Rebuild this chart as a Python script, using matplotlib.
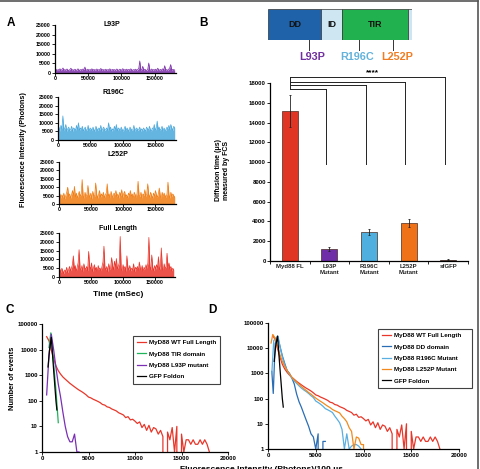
import numpy as np
import matplotlib
matplotlib.use("Agg")
import matplotlib.pyplot as plt
from matplotlib.lines import Line2D

plt.rcParams['font.family'] = ['Liberation Sans', 'DejaVu Sans']
plt.rcParams['font.weight'] = 'bold'

# ---- panel A: intensity traces (photons), one sample every 1500 ms ----
dt = 1500
l93 = [1500,2000,1200,1800,1600,2200,1300,1900,2600,1500,
       1800,1400,2100,1600,1200,1900,2500,1500,1800,1300,
       2000,1600,1400,2200,1700,1300,1900,1500,2100,1800,
       3100,1400,1700,2000,1300,1800,1600,2200,1400,1900,
       1500,1700,2100,1300,1800,1600,2400,1400,1900,1500,
       1700,2000,1300,1800,1600,2200,1400,1700,1900,1500,
       1800,1300,2100,1600,1400,2000,1700,1500,2300,1400,
       1800,1600,2000,1300,1900,1500,2200,1700,1400,1800,
       1600,2000,1300,1900,2400,6300,1500,1800,3500,1400,
       2000,1600,1300,1900,5200,1700,1500,2100,1400,1800,
       1600,2000,1300,2500,1700,1500,1900,1400,2200,1600,
       3800,1500,1800,1400,2000,2600,4400,1500,1900,1700,
       1600]
r196 = [6000,7500,5000,8500,6500,14000,5500,7000,9000,5000,
        6500,7500,5500,6000,8000,5000,7000,6500,5500,8500,
        6000,10000,5500,7000,6000,8000,5000,6500,7500,5500,
        6000,8500,5000,7000,6500,5500,7500,6000,5000,8000,
        6500,5500,7000,6000,8500,5000,6500,7500,5500,6000,
        7000,5500,10000,6000,7500,5000,6500,5500,8000,6000,
        9000,5000,7000,6500,5500,7500,6000,5000,6500,8000,
        5500,7000,6000,5000,7500,6500,5500,6000,8500,5000,
        6500,7000,5500,6000,7500,5000,6500,5500,7000,6000,
        5000,7500,6500,5500,8000,6000,5000,7000,6500,9000,
        5500,7000,11000,6000,7500,5500,6500,8000,5000,7000,
        6000,5500,7500,6500,8500,6000,9000,7000,5500,8000,
        7000]
l252 = [4500,6000,3500,5500,4000,6500,3000,5000,7000,10000,
        4500,6000,3500,5500,8000,5000,10500,4000,6500,3500,
        5500,7500,4500,6000,14500,5000,3500,7000,4500,6000,
        11000,5500,4000,6500,3000,7500,5000,4500,12500,6000,
        3500,5500,8000,4000,6000,4500,7000,3500,5500,6500,
        12000,4500,6000,3500,7500,5000,4000,6500,5500,8000,
        4500,6000,3500,7000,5000,8500,4000,6000,7500,4500,
        5500,3500,6500,5000,8000,4500,6000,3500,7000,5500,
        4000,6500,13500,5000,4500,7000,3500,6000,5000,8500,
        4500,6000,12000,5500,4000,7000,5000,3500,6500,4500,
        8000,5500,4000,6000,9500,5000,3500,7000,4500,6500,
        5000,4000,6000,13000,5500,3500,7000,4500,6000,5000,
        4000]
full = [3000,4500,2500,5000,3500,2000,4000,3000,5500,2500,
        4000,6000,3500,5000,7000,12000,4500,6500,3000,5500,
        8000,15500,5000,4000,6500,3000,7500,5000,4500,6000,
        3500,14500,6000,4500,8000,3000,5000,7000,4000,5500,
        3000,6500,4500,5000,3500,6000,8500,17500,5500,4000,
        6000,3000,7500,4500,5000,11000,6500,4000,9000,5500,
        10500,4500,6000,8000,23000,5000,3500,7000,4500,6000,
        3000,12000,5500,4000,6500,3500,5000,4000,7500,3000,
        5500,4500,6000,3500,8500,5000,4000,6500,3000,5500,
        4500,7000,5000,8000,22500,6000,4000,12500,5500,3500,
        6500,4500,7000,5000,11500,4000,6000,16500,5500,3500,
        7500,4500,6000,13500,5000,8000,4500,6000,3500,5000,
        4000]
trace_names = ['L93P', 'R196C', 'L252P', 'Full Length']
trace_data = [l93, r196, l252, full]
trace_colors = ['#7b2fa8', '#4aa8dc', '#f07c12', '#e8342a']

# ---- panel B: domains and diffusion times ----
domain_names = ['DD', 'ID', 'TIR', '']
domain_start = [0, 109, 152, 288]
domain_end = [109, 152, 288, 296]
domain_colors = ['#1f62aa', '#cde6f2', '#21b24f', '#cde6f2']
mut_names = ['L93P', 'R196C', 'L252P']
mut_tick = [84, 187, 257]      # where the marks sit on the drawn bar
mut_label = [90, 183, 266]     # where the names sit
mut_colors = ['#7030a0', '#63b2dc', '#f07d22']

bar_labels = ['Myd88 FL', 'L93P\nMutant', 'R196C\nMutant', 'L252P\nMutant', 'sfGFP']
diff_time = [15200, 1200, 2900, 3850, 150]
diff_err = [1600, 200, 300, 400, 60]
bar_colors = ['#e03424', '#6f2da8', '#4fb0e0', '#ef7218', '#111111']
bracket_levels = [17420, 17760, 18130, 18600]

# ---- panels C and D: photon count histograms ----
red_x = list(range(500, 18251, 250))
red_y = [32000,22000,9500,4500,2300,1500,1100,850,700,580,
         480,410,350,300,260,230,200,170,140,130,
         115,105,95,85,72,68,58,55,48,44,
         40,34,31,28,22,24,18,19,16,13,
         15,9,12,7,11,6,9,8,5,7,
         4,0,6,3,9,1,10,0,5,1,
         3,3,2,3,2,2,3,2,3,2,
         1,0]
tir_x = [750, 950, 1250, 1500, 1750]
tir_y = [12000, 45000, 3000, 250, 14]
l93_x = list(range(500, 4251, 250))
l93_y = [170, 6000, 40000, 10000, 2000, 450, 140, 35, 10, 4, 2.5, 2.5, 5, 1, 1, 0]
gfp_x = [650, 800, 1000, 1250, 1500, 1600]
gfp_c = [2100, 9000, 30000, 1600, 100, 44]
gfp_d = [3000, 12000, 30000, 1600, 100, 46]
dd_x = [400, 550] + list(range(750, 6001, 250))
dd_y = [1200, 160, 15000, 30000, 12000, 5000, 2500, 1300, 1000, 650, 380, 150,
        75, 45, 25, 14, 8, 4, 3, 1, 4, 0, 2, 2]
r196_x = [400, 600, 800, 1050] + list(range(1250, 10001, 250))
r196_y = [1000, 20000, 25000, 30000, 12000, 4500, 2200, 1300, 900, 650, 500, 400,
          320, 260, 220, 190, 160, 130, 110, 80, 70, 60, 50, 40,
          36, 32, 28, 20, 15, 11, 6, 1, 4, 1, 1.3, 1.5, 1.5, 1.3, 1, 0]
l252_x = [320] + list(range(500, 10251, 250))
l252_y = [16000, 35000, 25000, 12000, 5500, 3000, 1900, 1300, 950, 700, 550, 450,
          370, 300, 250, 210, 175, 150, 125, 105, 90, 78, 68, 58, 50,
          44, 37, 33, 30, 27, 20, 16, 12, 7, 5, 1, 3, 2.7, 1.5, 1.5, 0]

W, H = 481, 469


def box(l, t, r, b):
    return [l / W, 1 - b / H, (r - l) / W, (b - t) / H]


def fx(px):
    return px / W


def fy(py):
    return 1 - py / H


def clean(ax, size=3.6):
    ax.spines['top'].set_visible(False)
    ax.spines['right'].set_visible(False)
    for s in ('left', 'bottom'):
        ax.spines[s].set_linewidth(0.9)
    ax.tick_params(labelsize=size, length=2, width=0.6, pad=1)


fig = plt.figure(figsize=(4.81, 4.69), dpi=100)

# panel A
a_boxes = [(55, 25, 176, 73), (58, 97, 176, 140), (59, 162, 176, 204), (59, 233, 175, 277)]
a_titles = [(112, 25), (113, 93), (118, 155), (118, 228)]
for name, vals, col, bx, tp in zip(trace_names, trace_data, trace_colors, a_boxes, a_titles):
    ax = fig.add_axes(box(*bx))
    t = np.arange(len(vals)) * dt
    ax.fill_between(t, 0, vals, color=col, alpha=0.85, lw=0)
    ax.plot(t, vals, color=col, lw=0.5)
    ax.set_xlim(0, 182000)
    ax.set_ylim(0, 25000)
    ax.set_yticks(range(0, 25001, 5000))
    ax.set_xticks([0, 50000, 100000, 150000])
    clean(ax, 3.8)
    ax.tick_params(axis='x', pad=0.5)
    fig.text(fx(tp[0]), fy(tp[1]), name, ha='center', va='center', fontsize=5)
fig.text(fx(118), fy(294), 'Time (mSec)', ha='center', va='center', fontsize=6)
fig.text(fx(24), fy(150), 'Fluorescence Intensity (Photons)', rotation=90,
         ha='center', va='center', fontsize=5.2)

# panel B: domain diagram
axd = fig.add_axes(box(268, 9, 412, 40))
axd.set_xlim(0, 296)
axd.set_ylim(0, 1)
axd.axis('off')
for nm, s, e, c in zip(domain_names, domain_start, domain_end, domain_colors):
    axd.barh(0.5, e - s, left=s, height=1, color=c, edgecolor='#333333', lw=0.5)
    if nm:
        axd.text((s + e) / 2, 0.5, nm, ha='center', va='center', fontsize=6.5, color='#111111')
for nm, p, lp, c in zip(mut_names, mut_tick, mut_label, mut_colors):
    axd.plot([p, p], [0, -0.33], color='#333333', lw=0.7, clip_on=False)
    axd.text(lp, -0.55, nm, ha='center', va='center', fontsize=7.8, color=c, clip_on=False)

# panel B: bars
axb = fig.add_axes(box(270, 83, 468, 261))
xs = np.arange(len(diff_time))
axb.bar(xs, diff_time, width=0.4, color=bar_colors, edgecolor='#4a2a20', lw=0.5,
        yerr=diff_err, error_kw=dict(ecolor='#222222', elinewidth=0.6, capsize=0.8, capthick=0.6))
axb.set_xlim(-0.5, 4.5)
axb.set_ylim(0, 18000)
axb.set_yticks(range(0, 18001, 2000))
axb.set_xticks(xs)
axb.set_xticklabels(bar_labels, fontsize=4.2, color='#222222')
axb.set_xticks(np.arange(-0.5, 4.6, 1), minor=True)
clean(axb, 4.3)
axb.tick_params(axis='x', which='major', length=0, pad=2)
axb.tick_params(axis='x', which='minor', length=2, width=0.6)
for i, lev in zip(range(1, 5), bracket_levels):
    xe = i - 0.08
    axb.plot([0, xe], [lev, lev], color='#222222', lw=0.7, clip_on=False)
    axb.plot([xe, xe], [lev, 9800], color='#222222', lw=0.7, clip_on=False)
axb.plot([0, 0], [max(bracket_levels), min(bracket_levels)], color='#222222', lw=0.7, clip_on=False)
axb.text(2.08, 19050, '****', ha='center', va='center', fontsize=6, clip_on=False)
fig.text(fx(223), fy(170), 'Diffusion time (\u03bcs)\nmeasured by FCS', rotation=90,
         ha='center', va='center', fontsize=5, linespacing=1.2)

# panels C and D


def hist_axes(bx):
    ax = fig.add_axes(box(*bx))
    ax.set_yscale('log')
    ax.set_ylim(1, 100000)
    ax.set_xlim(0, 20000)
    ax.set_yticks([1, 10, 100, 1000, 10000, 100000])
    ax.set_yticklabels(['1', '10', '100', '1000', '10000', '100000'])
    ax.minorticks_off()
    ax.set_xticks(range(0, 20001, 5000))
    clean(ax, 4.4)
    return ax


def add_legend(ax, l, t, r):
    leg = ax.legend(loc='upper left', bbox_to_anchor=(fx(l), fy(t), fx(r) - fx(l), 0.001),
                    bbox_transform=fig.transFigure, mode='expand', fontsize=4.5,
                    frameon=True, fancybox=False, edgecolor='#111111', handlelength=1.4,
                    handletextpad=0.4, labelspacing=0.95, borderpad=0.7, borderaxespad=0)
    leg.get_frame().set_linewidth(0.8)


axc = hist_axes((42, 324, 228, 452))
axc.plot(red_x, red_y, color='#e8372a', lw=0.9, label='MyD88 WT Full Length')
axc.plot(tir_x, tir_y, color='#1fb35a', lw=0.9, label='MyD88 TIR domain')
axc.plot(l93_x, l93_y, color='#7a2fb5', lw=0.9, label='MyD88 L93P mutant')
axc.plot(gfp_x, gfp_c, color='#000000', lw=0.9, label='GFP Foldon')
add_legend(axc, 133, 336, 220)
fig.text(fx(13), fy(378), 'Number of events', rotation=90, ha='center', va='center', fontsize=5.4)

axdd = hist_axes((268, 323, 459, 449))
axdd.plot(red_x, red_y, color='#e8372a', lw=0.9, label='MyD88 WT Full Length')
axdd.plot(dd_x, dd_y, color='#2a6db5', lw=0.9, label='MyD88 DD domain')
axdd.plot(r196_x, r196_y, color='#5aaee0', lw=0.9, label='MyD88 R196C Mutant')
axdd.plot(l252_x, l252_y, color='#f08a1e', lw=0.9, label='MyD88 L252P Mutant')
axdd.plot(gfp_x, gfp_d, color='#000000', lw=0.9, label='GFP Foldon')
add_legend(axdd, 378, 329, 472)

fig.text(fx(262), fy(466), 'Fluorescence Intensity (Photons)/100 \u03bcs', ha='center', va='top',
         fontsize=6)

# panel letters
for letter, px, py in [('A', 11, 23), ('B', 203, 23), ('C', 10, 310), ('D', 212, 310)]:
    fig.text(fx(px), fy(py), letter, ha='center', va='center', fontsize=8.5)

# frame around the figure
fig.add_artist(Line2D([0, fx(478)], [fy(1.5), fy(1.5)], transform=fig.transFigure,
                      color='#555555', lw=1.2))
fig.add_artist(Line2D([fx(478), fx(478)], [fy(1.5), 0], transform=fig.transFigure,
                      color='#555555', lw=1.2))

fig.savefig('out.png', dpi=100)
